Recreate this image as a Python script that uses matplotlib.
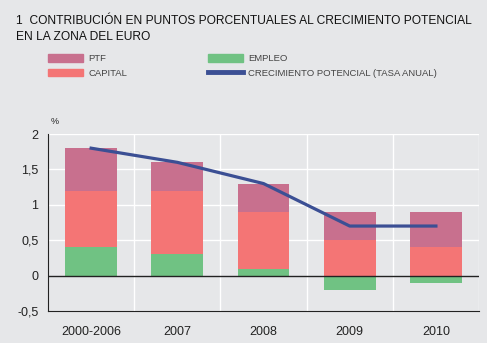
import matplotlib.pyplot as plt
from matplotlib.patches import Patch
from matplotlib.lines import Line2D
import numpy as np

plt.rcParams['font.family'] = ['Liberation Sans', 'DejaVu Sans']

categorias = ['2000-2006', '2007', '2008', '2009', '2010']
empleo = [0.4, 0.3, 0.1, -0.2, -0.1]
capital = [0.8, 0.9, 0.8, 0.5, 0.4]
ptf = [0.6, 0.4, 0.4, 0.4, 0.5]
crecimiento = [1.8, 1.6, 1.3, 0.7, 0.7]

fondo = '#e6e7e9'
c_ptf = '#c8708e'
c_capital = '#f47575'
c_empleo = '#70c283'
c_linea = '#3b4f94'

fig = plt.figure(figsize=(4.87, 3.43), dpi=100, facecolor=fondo)
ax = fig.add_axes([0.0986, 0.0933, 0.885, 0.516], facecolor=fondo)

x = np.arange(len(categorias))
empleo = np.array(empleo)
capital = np.array(capital)
ptf = np.array(ptf)

# base de cada tramo: el empleo negativo va por debajo de cero
base_capital = np.clip(empleo, 0, None)
base_ptf = base_capital + capital

ax.bar(x, empleo, width=0.6, color=c_empleo, zorder=2)
ax.bar(x, capital, width=0.6, bottom=base_capital, color=c_capital, zorder=2)
ax.bar(x, ptf, width=0.6, bottom=base_ptf, color=c_ptf, zorder=2)
ax.plot(x, crecimiento, color=c_linea, linewidth=2.3, zorder=3)

ax.set_xlim(-0.5, 4.5)
ax.set_ylim(-0.5, 2)
ax.set_yticks([-0.5, 0, 0.5, 1, 1.5, 2])
ax.set_yticklabels(['-0,5', '0', '0,5', '1', '1,5', '2'])
ax.set_xticks(x)
ax.set_xticklabels(categorias)
ax.tick_params(length=0, labelsize=9, colors='#222222', pad=7)
ax.tick_params(axis='x', pad=11)

for yv in [0.5, 1, 1.5, 2]:
    ax.axhline(yv, color='white', linewidth=1, zorder=1)
for xv in [0.5, 1.5, 2.5, 3.5, 4.5]:
    ax.axvline(xv, color='white', linewidth=1, zorder=1)
ax.axhline(0, color='#222222', linewidth=1, zorder=4)

for s in ['top', 'right']:
    ax.spines[s].set_visible(False)
ax.spines['left'].set_color('#222222')
ax.spines['bottom'].set_color('#222222')

ax.text(0.005, 1.055, '%', transform=ax.transAxes, fontsize=6.5, color='#222222')

fig.text(0.033, 0.955, '1  CONTRIBUCIÓN EN PUNTOS PORCENTUALES AL CRECIMIENTO POTENCIAL\nEN LA ZONA DEL EURO',
         fontsize=8.65, color='#111111', va='top', linespacing=1.4)

handles = [Patch(color=c_ptf), Patch(color=c_capital), Patch(color=c_empleo),
           Line2D([], [], color=c_linea, linewidth=3.5)]
etiquetas = ['PTF', 'CAPITAL', 'EMPLEO', 'CRECIMIENTO POTENCIAL (TASA ANUAL)']
fig.legend(handles, etiquetas, ncol=2, loc='upper left', bbox_to_anchor=(0.081, 0.868),
           frameon=False, fontsize=6.8, handlelength=3.7, handleheight=0.9,
           columnspacing=8.6, labelspacing=0.6, handletextpad=0.55, labelcolor='#444444')

fig.savefig('out.png', dpi=100, facecolor=fondo)
